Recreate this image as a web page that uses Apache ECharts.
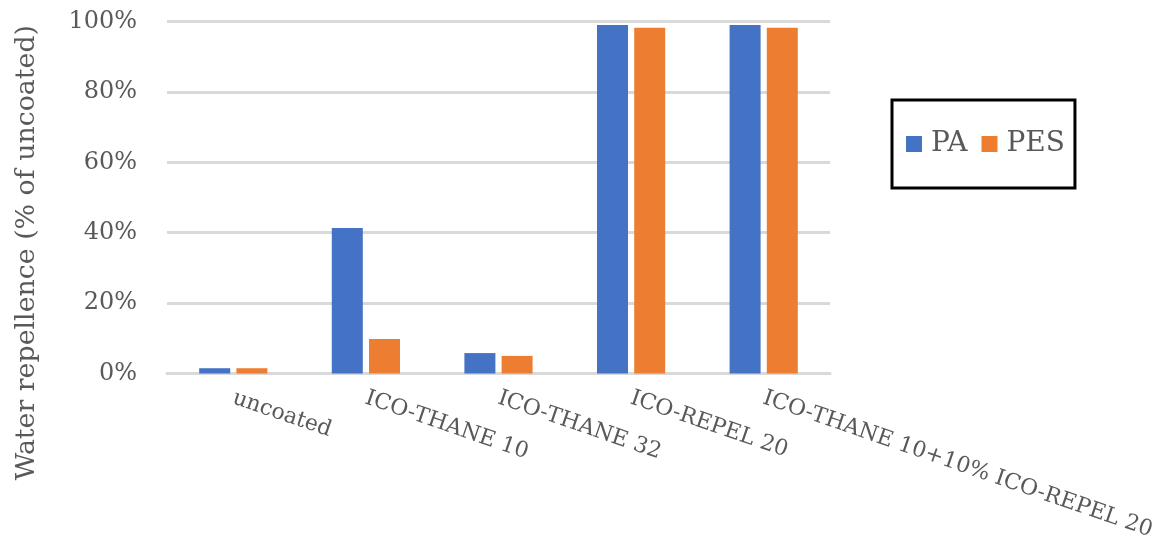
<!DOCTYPE html>
<html>
<head>
<meta charset="utf-8">
<script src="https://cdn.jsdelivr.net/npm/echarts@6/dist/echarts.min.js"></script>
<style>
  html, body { margin: 0; padding: 0; background: #fff; }
  #main { width: 1174px; height: 539px; }
</style>
</head>
<body>
<div id="main"></div>
<script>
var categories = ['uncoated', 'ICO-THANE 10', 'ICO-THANE 32', 'ICO-REPEL 20', 'ICO-THANE 10+10% ICO-REPEL 20'];
var paValues = [1.5, 41.3, 5.8, 99.0, 99.0];
var pesValues = [1.5, 9.8, 5.0, 98.2, 98.2];
var yTicks = [0, 20, 40, 60, 80, 100];

var serif = '"DejaVu Serif", "Liberation Serif", serif';
var textGray = '#595959';

var myChart = echarts.init(document.getElementById('main'));

var option = {
    animation: false,
    grid: {
        left: 167, right: 344, top: 21.5, bottom: 165.5,
        containLabel: false,
        outerBoundsMode: 'none'
    },
    legend: {
        data: ['PA', 'PES'],
        left: 892,
        top: 100,
        orient: 'horizontal',
        icon: 'rect',
        itemWidth: 16,
        itemHeight: 16,
        itemGap: 14,
        padding: [30, 10, 30, 14],
        borderColor: '#000',
        borderWidth: 3,
        textStyle: { fontFamily: serif, fontSize: 28, color: textGray, padding: [0, 0, 0, 4] }
    },
    graphic: [{
        type: 'text',
        left: 14,
        top: 25,
        rotation: Math.PI / 2,
        style: {
            text: 'Water repellence (% of uncoated)',
            fontFamily: serif,
            fontSize: 26.8,
            fill: textGray
        }
    }],
    xAxis: {
        type: 'category',
        data: categories,
        axisLine: { lineStyle: { color: '#d9d9d9', width: 3 } },
        axisTick: { show: false },
        axisLabel: {
            rotate: -19,
            margin: 24,
            interval: 0,
            fontFamily: serif,
            fontSize: 22,
            color: textGray
        }
    },
    yAxis: {
        type: 'value',
        min: yTicks[0],
        max: yTicks[yTicks.length - 1],
        interval: 20,
        axisLine: { show: false },
        axisTick: { show: false },
        splitLine: { lineStyle: { color: '#d9d9d9', width: 3 } },
        axisLabel: {
            margin: 30,
            fontFamily: serif,
            fontSize: 24,
            color: textGray,
            formatter: '{value}%'
        }
    },
    series: [{
        name: 'PA',
        type: 'bar',
        data: paValues,
        barWidth: 31,
        barGap: '20%',
        itemStyle: { color: '#4472C4' }
    }, {
        name: 'PES',
        type: 'bar',
        data: pesValues,
        barWidth: 31,
        itemStyle: { color: '#ED7D31' }
    }]
};

myChart.setOption(option);
</script>
</body>
</html>
